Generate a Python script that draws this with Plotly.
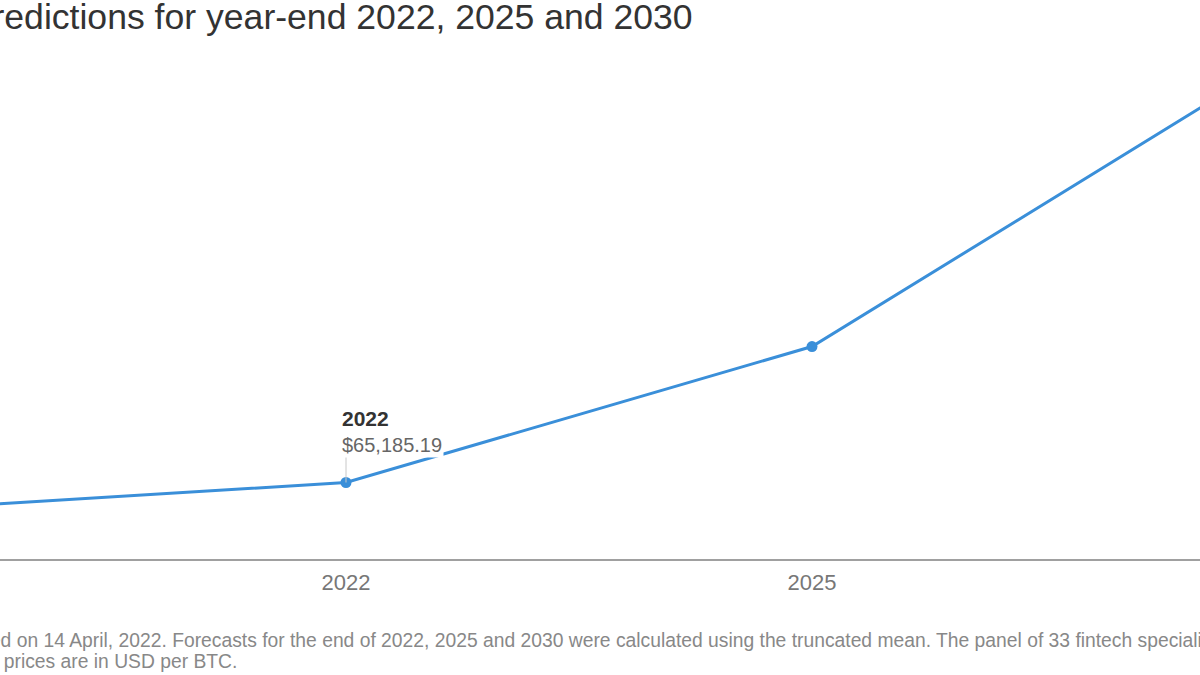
import plotly.graph_objects as go

# ---- data ----
categories = ["Current", "2022", "2025", "2030"]
btc_price = [40700, 65185.19, 181000, 425000]
title_text = "Bitcoin price predictions for year-end 2022, 2025 and 2030"
note_line1 = ("Survey conducted on 14 April, 2022. Forecasts for the end of 2022, 2025 and 2030 "
              "were calculated using the truncated mean. The panel of 33 fintech specialists was surveyed.")
note_line2 = "All prices are in USD per BTC."
highlight_index = 1

W, H = 1200, 675
T, B = 60, 116
plot_h = H - T - B
FONT = "Liberation Sans, Arial, sans-serif"

fig = go.Figure()
fig.add_trace(go.Scatter(
    x=categories, y=btc_price, mode="lines+markers",
    line=dict(color="#3a8fd9", width=3),
    marker=dict(color="#3a8fd9", size=11),
    hoverinfo="skip", showlegend=False,
))

hy = btc_price[highlight_index]
hx_label = categories[highlight_index]
# leader line
fig.add_annotation(x=highlight_index, y=hy, xref="x", yref="y", text="", showarrow=True,
                   ax=0, ay=-27, axref="pixel", ayref="pixel",
                   arrowhead=0, arrowwidth=1, arrowcolor="#c8c8c8")
# label
fig.add_annotation(x=highlight_index, y=hy, xref="x", yref="y",
                   text=f"<span style='font-size:21px;color:#333333'><b>{hx_label}</b></span><br>${hy:,.2f}",
                   showarrow=False,
                   xanchor="left", yanchor="bottom", align="left",
                   xshift=-6, yshift=24, bgcolor="white", borderpad=1,
                   font=dict(family=FONT, size=20, color="#666666"))

# title
fig.add_annotation(text=title_text, xref="paper", yref="paper",
                   x=695 / W, y=1 + (T - 17) / plot_h, xanchor="right", yanchor="middle",
                   showarrow=False,
                   font=dict(family=FONT, size=35.6, color="#333333"))
# notes
fig.add_annotation(text=note_line1, xref="paper", yref="paper",
                   x=-145 / W, y=-(640 - (H - B)) / plot_h, xanchor="left", yanchor="middle",
                   showarrow=False,
                   font=dict(family=FONT, size=19.3, color="#888888"))
fig.add_annotation(text=note_line2, xref="paper", yref="paper",
                   x=-24.8 / W, y=-(661 - (H - B)) / plot_h, xanchor="left", yanchor="middle",
                   showarrow=False,
                   font=dict(family=FONT, size=19.3, color="#888888"))

# x axis: category index 1 at 346 px, index 2 at 812 px
step = 812 - 346
x0 = highlight_index - 346 / step
x1 = highlight_index + (W - 346) / step

fig.update_layout(
    width=W, height=H,
    margin=dict(l=0, r=0, t=T, b=B),
    plot_bgcolor="white", paper_bgcolor="white",
    xaxis=dict(type="category", range=[x0, x1], showgrid=False, zeroline=False,
               showline=True, linecolor="#a0a0a0", linewidth=2, ticks="",
               ticklabelstandoff=3,
               tickfont=dict(family=FONT, size=22, color="#777777")),
    yaxis=dict(range=[0, plot_h * 852], showgrid=False, zeroline=False,
               showticklabels=False, showline=False),
)

fig.write_html("out.html", config={"displayModeBar": False},
               post_script="document.body.style.margin='0';document.body.style.overflow='hidden';")
